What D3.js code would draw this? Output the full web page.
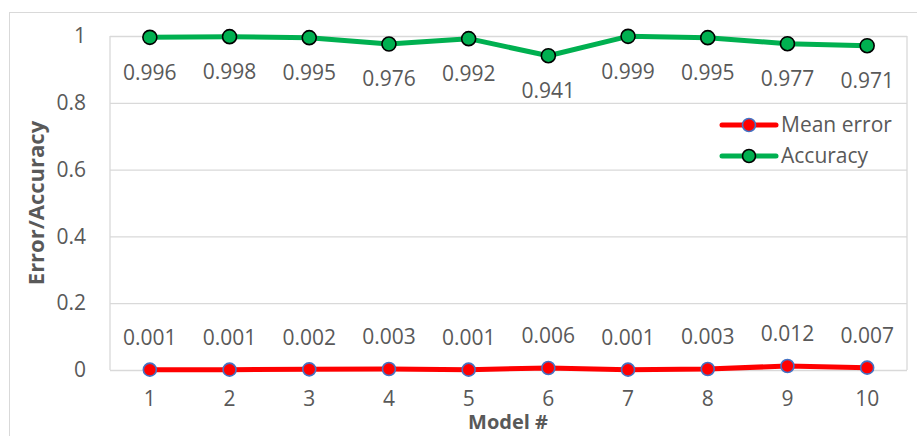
<!DOCTYPE html>
<html><head><meta charset="utf-8">
<script src="https://cdn.jsdelivr.net/npm/d3@7"></script>
<style>html,body{margin:0;padding:0;background:#fff;}svg{display:block;}</style>
</head><body>
<script>
const models = ["1","2","3","4","5","6","7","8","9","10"];
const meanError = [0.001,0.001,0.002,0.003,0.001,0.006,0.001,0.003,0.012,0.007];
const accuracy = [0.996,0.998,0.995,0.976,0.992,0.941,0.999,0.995,0.977,0.971];
const yTicks = [0,0.2,0.4,0.6,0.8,1];
const seriesNames = ["Mean error","Accuracy"];

const W=917,H=436;
const m={left:110,top:36,right:907,bottom:370};
const font='"Open Sans", sans-serif';
const txt='#595959';
const svg=d3.select("body").append("svg").attr("width",W).attr("height",H);
svg.append("rect").attr("x",9.5).attr("y",12.5).attr("width",W+10).attr("height",H+10)
  .attr("fill","#fff").attr("stroke","#d9d9d9");

const x=d3.scaleBand().domain(models).range([m.left,m.right]);
const y=d3.scaleLinear().domain([0,1]).range([m.bottom,m.top]);
const cx=d=>x(d)+x.bandwidth()/2;

// gridlines
const yAxis=d3.axisLeft(y).tickValues(yTicks).tickFormat(d=>d3.format("")(d)).tickSize(-(m.right-m.left)).tickPadding(24);
const ga=svg.append("g").attr("transform",`translate(${m.left},0)`).call(yAxis);
ga.select(".domain").remove();
ga.selectAll(".tick line").attr("stroke","#d9d9d9").attr("stroke-width",1.3);
ga.selectAll(".tick text").attr("font-family",font).attr("font-size",21).attr("fill",txt);
// plot border left/right
svg.append("line").attr("x1",m.left).attr("x2",m.left).attr("y1",m.top).attr("y2",m.bottom).attr("stroke","#d9d9d9").attr("stroke-width",1.3);
svg.append("line").attr("x1",m.right).attr("x2",m.right).attr("y1",m.top).attr("y2",m.bottom).attr("stroke","#d9d9d9").attr("stroke-width",1.3);

const xAxis=d3.axisBottom(x).tickSize(0).tickPadding(21);
const gx=svg.append("g").attr("transform",`translate(0,${m.bottom})`).call(xAxis);
gx.select(".domain").remove();
gx.selectAll(".tick text").attr("font-family",font).attr("font-size",21).attr("fill",txt);

// lines
const line=d3.line().x((d,i)=>cx(models[i])).y(d=>y(d));
svg.append("path").datum(accuracy).attr("d",line).attr("fill","none").attr("stroke","#00b050").attr("stroke-width",5).attr("stroke-linejoin","round");
svg.append("path").datum(meanError).attr("d",line).attr("fill","none").attr("stroke","#ff0000").attr("stroke-width",5).attr("stroke-linejoin","round");

svg.selectAll(".acc").data(accuracy).enter().append("circle")
  .attr("cx",(d,i)=>cx(models[i])).attr("cy",d=>y(d)).attr("r",7)
  .attr("fill","#00b050").attr("stroke","#000").attr("stroke-width",1.6);
svg.selectAll(".err").data(meanError).enter().append("circle")
  .attr("cx",(d,i)=>cx(models[i])).attr("cy",d=>y(d)).attr("r",6.5)
  .attr("fill","#ff0000").attr("stroke","#4472c4").attr("stroke-width",1.6);

svg.selectAll(".accl").data(accuracy).enter().append("text")
  .attr("x",(d,i)=>cx(models[i])).attr("y",d=>y(d)+35).attr("dy","0.35em")
  .attr("text-anchor","middle").attr("font-family",font).attr("font-size",21).attr("fill",txt)
  .text(d=>d3.format(".3f")(d));
svg.selectAll(".errl").data(meanError).enter().append("text")
  .attr("x",(d,i)=>cx(models[i])).attr("y",d=>y(d)-32).attr("dy","0.35em")
  .attr("text-anchor","middle").attr("font-family",font).attr("font-size",21).attr("fill",txt)
  .text(d=>d3.format(".3f")(d));

// axis titles
svg.append("text").attr("transform",`translate(44,203) rotate(-90)`).attr("text-anchor","middle")
  .attr("font-family",font).attr("font-size",22).attr("font-weight","bold").attr("fill",txt).text("Error/Accuracy");
svg.append("text").attr("x",508).attr("y",429).attr("text-anchor","middle")
  .attr("font-family",font).attr("font-size",20).attr("font-weight","bold").attr("fill",txt).text("Model #");

// legend
const leg=[{name:seriesNames[0],c:"#ff0000",s:"#4472c4",y:125},{name:seriesNames[1],c:"#00b050",s:"#000",y:156}];
leg.forEach(l=>{
  const g=svg.append("g");
  g.append("line").attr("x1",722).attr("x2",776).attr("y1",l.y).attr("y2",l.y).attr("stroke",l.c).attr("stroke-width",5).attr("stroke-linecap","round");
  g.append("circle").attr("cx",749).attr("cy",l.y).attr("r",6.5).attr("fill",l.c).attr("stroke",l.s).attr("stroke-width",1.6);
  g.append("text").attr("x",781).attr("y",l.y).attr("dy","0.35em").attr("font-family",font).attr("font-size",21).attr("fill",txt).text(l.name);
});
</script>
</body></html>
